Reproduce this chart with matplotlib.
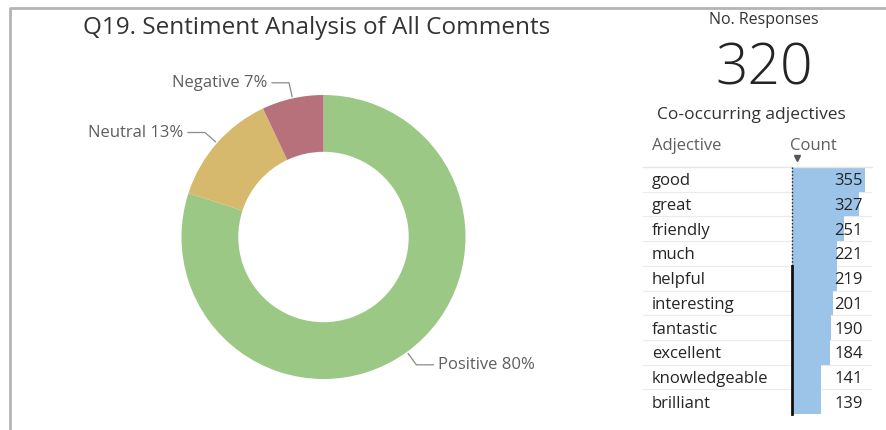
import numpy as np
import matplotlib
matplotlib.use("Agg")
import matplotlib.pyplot as plt

plt.rcParams['font.family'] = ['Open Sans', 'DejaVu Sans']

# sentiment split (percent)
sentiments = ['Positive', 'Neutral', 'Negative']
shares = [80, 13, 7]
sent_colors = ['#9bc985', '#d6b96d', '#b6717a']

# co-occurring adjectives table
adjectives = ['good', 'great', 'friendly', 'much', 'helpful', 'interesting',
              'fantastic', 'excellent', 'knowledgeable', 'brilliant']
counts = [355, 327, 251, 221, 219, 201, 190, 184, 141, 139]
n_responses = 320

W, H = 887, 430
fig = plt.figure(figsize=(W / 100, H / 100), dpi=100)

# --- donut ---
cx, cy, R = 323.5, 237, 142
half = 150
pie_ax = fig.add_axes([(cx - half) / W, (H - cy - half) / H, 2 * half / W, 2 * half / H])
r = R / half
wedges, _ = pie_ax.pie(shares, colors=sent_colors, startangle=90, counterclock=False,
                       radius=r, wedgeprops=dict(width=r * 0.4, edgecolor='none'))
pie_ax.set_xlim(-1, 1)
pie_ax.set_ylim(-1, 1)
pie_ax.set_aspect('equal')
pie_ax.axis('off')

# --- table bars ---
top, bottom = 167, 414
row_h = (bottom - top) / len(adjectives)
tab_left, tab_right = 643, 872
bar_x0 = 792

bar_ax = fig.add_axes([bar_x0 / W, (H - bottom) / H, (tab_right - bar_x0) / W, (bottom - top) / H])
for i in range(1, len(adjectives)):
    bar_ax.axhline(i - 0.5, color='#ebebeb', lw=0.8, zorder=0)
bar_ax.barh(range(len(counts)), counts, height=1.0, color='#9cc3e8', edgecolor='none', zorder=2)
bar_ax.set_xlim(0, (tab_right - bar_x0) * 355 / 73)
bar_ax.set_ylim(len(adjectives) - 0.5, -0.5)
bar_ax.axis('off')

# overlay axes in pixel coordinates (origin top-left), drawn on top
ov = fig.add_axes([0, 0, 1, 1])
ov.set_zorder(5)
ov.patch.set_alpha(0)
ov.set_xlim(0, W)
ov.set_ylim(H, 0)
ov.axis('off')

# panel border
ov.plot([10, 10, W], [H, 8, 8], color='#b4b4b4', lw=2, solid_capstyle='butt')

ov.text(317, 28, 'Q19. Sentiment Analysis of All Comments', fontsize=17.5,
        color='#333333', ha='center', va='center')

# leader lines and labels, in pixel space
for w, name, pct in zip(wedges, sentiments, shares):
    ang = np.deg2rad((w.theta1 + w.theta2) / 2)
    x0, y0 = cx + (R + 2) * np.cos(ang), cy - (R + 2) * np.sin(ang)
    x1, y1 = cx + (R + 16) * np.cos(ang), cy - (R + 16) * np.sin(ang)
    side = 1 if np.cos(ang) > 0 else -1
    x2 = x1 + side * 17
    ov.plot([x0, x1, x2], [y0, y1, y1], color='#8a8a8a', lw=0.9)
    ov.text(x2 + side * 5, y1, f'{name} {pct}%', fontsize=12, color='#605e5c',
            ha='left' if side > 0 else 'right', va='center')

# --- card ---
ov.text(764, 20, 'No. Responses', fontsize=11.5, color='#333333', ha='center', va='center')
ov.text(764, 70, str(n_responses), fontsize=41, color='#252423', ha='center', va='center',
        fontweight='light')
ov.text(751, 115, 'Co-occurring adjectives', fontsize=12.5, color='#333333',
        ha='center', va='center')

# --- table text and grid ---
ov.text(652, 146, 'Adjective', fontsize=12, color='#605e5c', ha='left', va='center')
ov.text(790, 146, 'Count', fontsize=12, color='#605e5c', ha='left', va='center')
ov.plot([797], [158], marker='v', color='#555555', markersize=4)
ov.plot([tab_left, tab_right], [top, top], color='#e6e6e6', lw=1)

for i in range(1, len(adjectives)):
    yy = top + i * row_h
    ov.plot([tab_left, bar_x0], [yy, yy], color='#ebebeb', lw=0.8)

for i, (adj, c) in enumerate(zip(adjectives, counts)):
    yy = top + (i + 0.5) * row_h + 2
    ov.text(652, yy, adj, fontsize=12, color='#252423', ha='left', va='center')
    ov.text(863, yy, str(c), fontsize=12, color='#252423', ha='right', va='center')

# column marker line
split = top + 4 * row_h
ov.plot([bar_x0, bar_x0], [top, split], color='#222222', lw=1, ls=(0, (1, 1.5)))
ov.plot([bar_x0, bar_x0], [split, bottom], color='#111111', lw=2)

fig.savefig('out.png', dpi=100)
